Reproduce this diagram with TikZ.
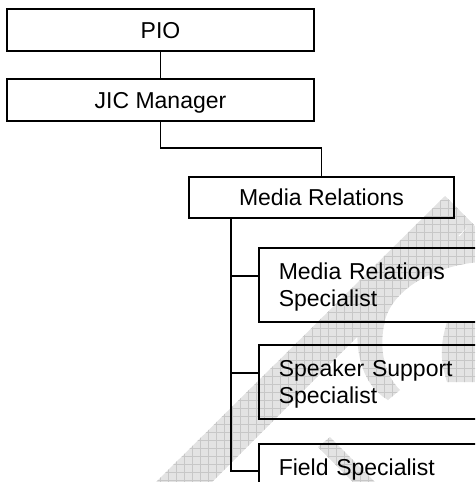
\documentclass[tikz,border=0pt]{standalone}
\usepackage{fontspec}
\setmainfont{Liberation Sans}
\begin{document}
\begin{tikzpicture}[x=1pt,y=-1pt,
  box/.style={draw=black, line width=1.5pt, rectangle, inner sep=0pt,
    font=\fontsize{23}{27}\selectfont},
  topbox/.style={box, minimum width=307pt, minimum height=42pt,
    text height=16.5pt, text depth=0pt},
  rolebox/.style={box, anchor=north west, minimum width=262pt,
    minimum height=74pt, text width=222pt, align=left, inner xsep=20pt,
    text height=16.5pt, text depth=27pt},
  link/.style={draw=black, line width=1.5pt},
  wmfill/.style={fill=black!11},
  wmgrid/.style={draw=black!22, line width=0.6pt}]

\useasboundingbox (0,0) rectangle (475,482);
\clip (0,0) rectangle (475,482);

% faint DRAFT watermark behind the chart
\begin{scope}
  \clip (156,482) -- (445,196) -- (471.5,222.5) -- (212,482) -- cycle
        (471.5,222.5) -- (480,231) -- (480,262)
          .. controls (440,265) and (395,285) .. (385,320)
          .. controls (378,350) and (385,375) .. (400,390)
          -- (388,400)
          .. controls (362,385) and (352,350) .. (360,305)
          .. controls (370,265) and (420,240) .. (460,236) -- cycle
        (447,322) -- (480,322) -- (480,382) -- (447,382)
          .. controls (440,360) and (440,345) .. (447,322) -- cycle
        (318,447) -- (330,437) -- (380,487) -- (368,497) -- cycle;
  \fill[wmfill] (0,0) rectangle (475,482);
  \draw[wmgrid, step=8pt] (0,0) grid (480,488);
\end{scope}

% chart boxes
\node[topbox] (pio) at (160.5,30) {PIO};
\node[topbox] (jic) at (160.5,100) {JIC Manager};
\node[box, minimum width=265pt, minimum height=41pt,
  text height=16.5pt, text depth=0pt] (mr) at (321.5,197.5) {Media Relations};
\node[rolebox] (mrs) at (258,247) {Media Relations\\Specialist};
\node[rolebox] (sss) at (258,344) {Speaker Support\\Specialist};
\node[rolebox] (fs)  at (258,443) {Field Specialist};

% connectors
\coordinate (elbow) at (240,148);
\coordinate (trunk) at (231,218);
\coordinate (b1) at ([yshift=9pt]mrs.west);
\coordinate (b2) at ([yshift=9pt]sss.west);
\coordinate (b3) at ([yshift=10pt]fs.west);

\draw[link] (pio) -- (jic);
\draw[link] (jic.south) |- (elbow) -| (mr.north);
\draw[link] (trunk) |- (b3);
\draw[link] (trunk |- b1) -- (b1);
\draw[link] (trunk |- b2) -- (b2);
\end{tikzpicture}
\end{document}
